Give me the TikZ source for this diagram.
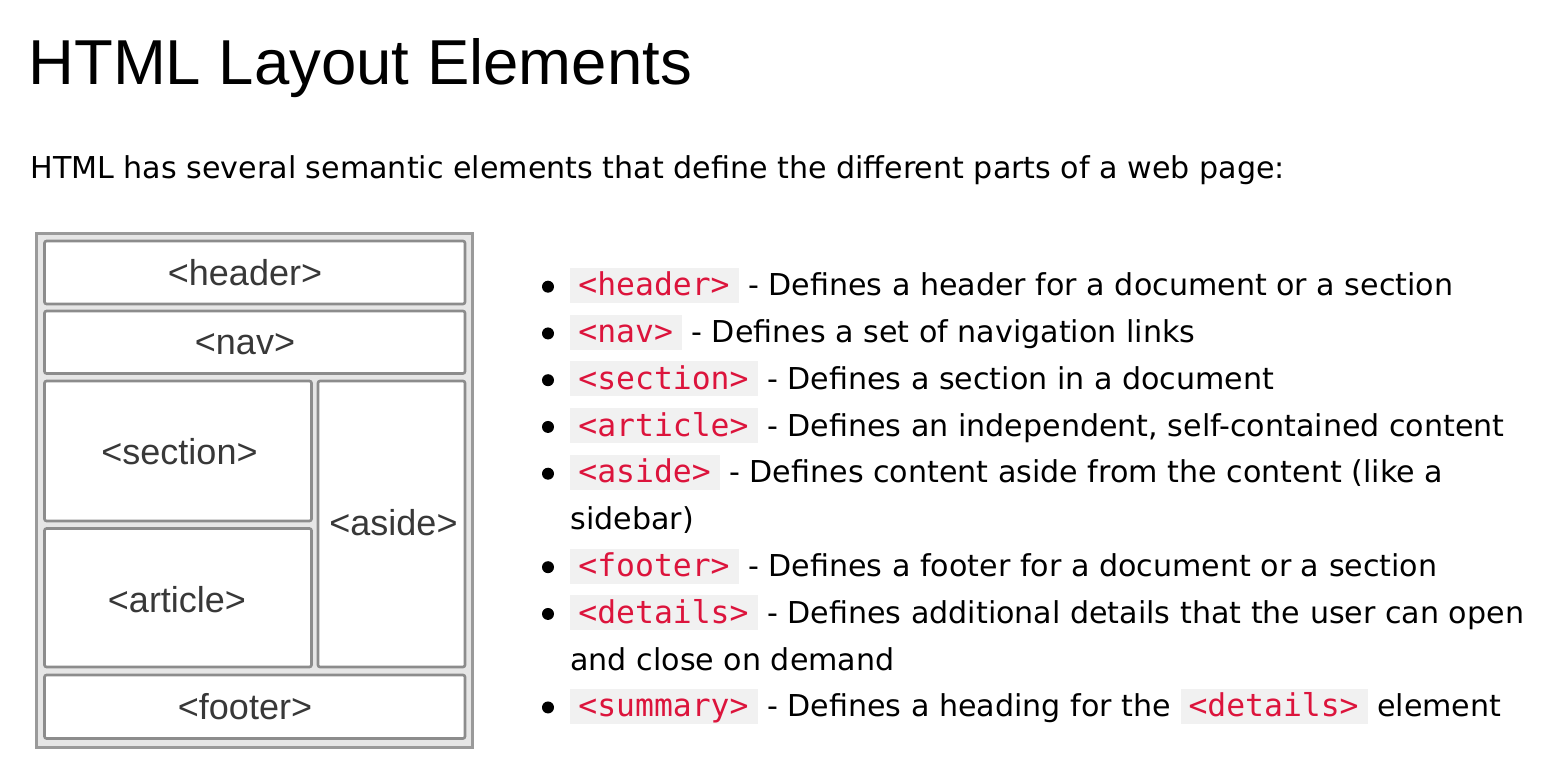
\documentclass[tikz,border=0pt]{standalone}
\usepackage{fontspec}
\setmainfont{DejaVu Sans}
\newfontfamily\titlefont{Liberation Sans}
\newfontfamily\boxfont{Liberation Sans}
\newfontfamily\codefont{DejaVu Sans Mono}
\definecolor{codered}{HTML}{DC143C}
\definecolor{codebg}{HTML}{F1F1F1}
\definecolor{outerfill}{HTML}{E6E6E6}
\definecolor{outerline}{HTML}{9A9A9A}
\definecolor{innerline}{HTML}{8C8C8C}
\definecolor{boxtext}{HTML}{383838}
\newcommand\code[1]{{\setlength\fboxsep{0pt}\colorbox{codebg}{\rule[-3.5pt]{0pt}{17.5pt}\hspace{4pt}\textcolor{codered}{\codefont\fontsize{15.7pt}{18pt}\selectfont #1}\hspace{4.5pt}}}}
\tikzset{
  outerbox/.style={draw=outerline, fill=outerfill, line width=1.3pt},
  innerbox/.style={draw=innerline, fill=white, line width=1.3pt, rounded corners=1pt},
  boxlabel/.style={anchor=base, inner sep=0pt, text=boxtext, font=\boxfont\fontsize{18pt}{20pt}\selectfont},
  bodyline/.style={anchor=base west, inner sep=0pt, font=\fontsize{15.06pt}{18pt}\selectfont},
  bulletdot/.style={circle, fill=black, inner sep=0pt, minimum size=6pt},
}
\begin{document}
\begin{tikzpicture}[x=0.5pt, y=-0.5pt]
\useasboundingbox (0,0) rectangle (1544,770);
% title and intro
\node[anchor=base west, inner sep=0pt, font=\titlefont\fontsize{31.75pt}{36pt}\selectfont] (title) at (28,85) {HTML Layout Elements};
\node[bodyline] (intro) at (30,178.5) {HTML has several semantic elements that define the different parts of a web page:};
% layout diagram
\draw[outerbox] (36.5,233.5) rectangle (472.5,747.5);
\draw[innerbox] (44.5,241) rectangle (465,304);
\draw[innerbox] (44.5,311) rectangle (465,373.5);
\draw[innerbox] (44.5,381) rectangle (311.5,521);
\draw[innerbox] (44.5,528.5) rectangle (311.5,667);
\draw[innerbox] (318,381) rectangle (465,667);
\draw[innerbox] (44.5,675) rectangle (465,738.5);
\node[boxlabel] (lheader) at (245,286) {<header>};
\node[boxlabel] (lnav) at (245,355) {<nav>};
\node[boxlabel] (lsection) at (179.5,465) {<section>};
\node[boxlabel] (larticle) at (177,612) {<article>};
\node[boxlabel] (laside) at (393.5,536) {<aside>};
\node[boxlabel] (lfooter) at (245,719) {<footer>};
% bullet list
\foreach \i/\yy in {1/296, 2/342.75, 3/389.5, 4/436.25, 5/483, 6/576.5, 7/623.25, 8/716.75}{
  \node[bulletdot] (b\i) at (548,\yy-9.3) {};
}
\node[bodyline] (l1) at (570,296) {\code{<header>} - Defines a header for a document or a section};
\node[bodyline] (l2) at (570,342.75) {\code{<nav>} - Defines a set of navigation links};
\node[bodyline] (l3) at (570,389.5) {\code{<section>} - Defines a section in a document};
\node[bodyline] (l4) at (570,436.25) {\code{<article>} - Defines an independent, self-contained content};
\node[bodyline] (l5) at (570,483) {\code{<aside>} - Defines content aside from the content (like a};
\node[bodyline] (l5b) at (570,529.75) {sidebar)};
\node[bodyline] (l6) at (570,576.5) {\code{<footer>} - Defines a footer for a document or a section};
\node[bodyline] (l7) at (570,623.25) {\code{<details>} - Defines additional details that the user can open};
\node[bodyline] (l7b) at (570,670) {and close on demand};
\node[bodyline] (l8) at (570,716.75) {\code{<summary>} - Defines a heading for the \code{<details>} element};
\end{tikzpicture}
\end{document}
